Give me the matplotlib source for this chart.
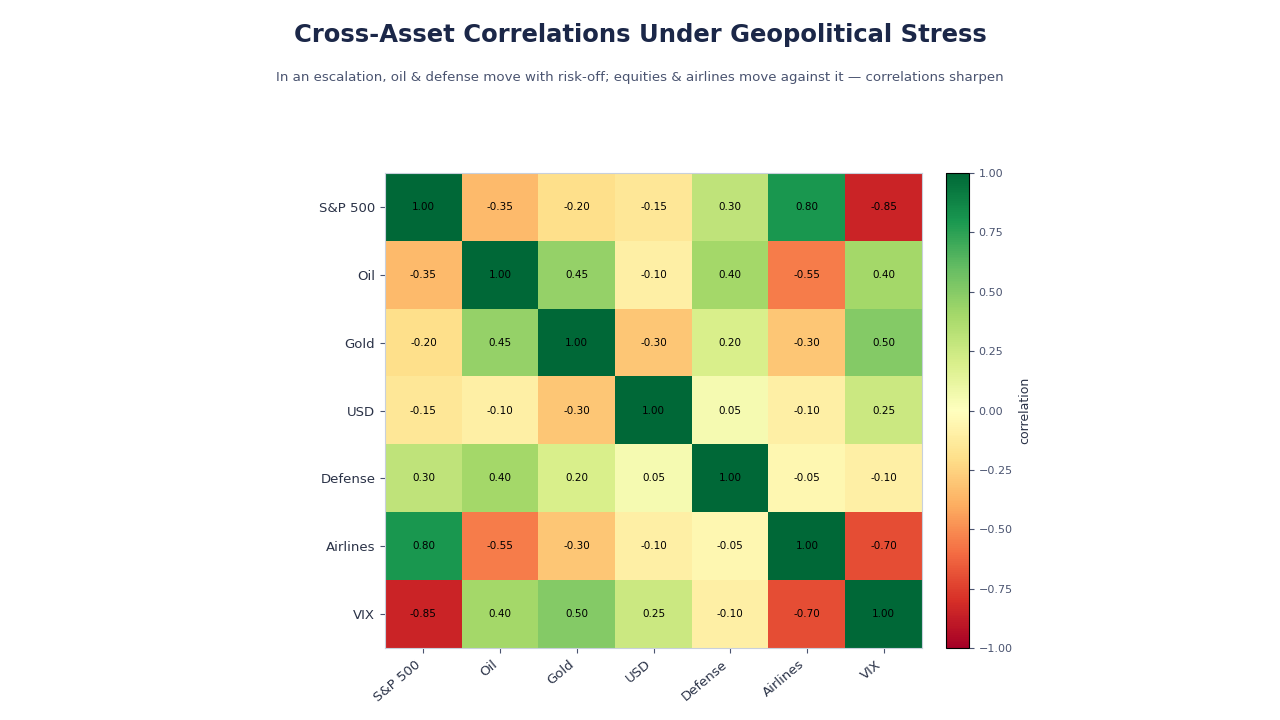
import numpy as np
import matplotlib.pyplot as plt

assets = ["S&P 500", "Oil", "Gold", "USD", "Defense", "Airlines", "VIX"]
corr = np.array([
    [1.00, -0.35, -0.20, -0.15, 0.30, 0.80, -0.85],
    [-0.35, 1.00, 0.45, -0.10, 0.40, -0.55, 0.40],
    [-0.20, 0.45, 1.00, -0.30, 0.20, -0.30, 0.50],
    [-0.15, -0.10, -0.30, 1.00, 0.05, -0.10, 0.25],
    [0.30, 0.40, 0.20, 0.05, 1.00, -0.05, -0.10],
    [0.80, -0.55, -0.30, -0.10, -0.05, 1.00, -0.70],
    [-0.85, 0.40, 0.50, 0.25, -0.10, -0.70, 1.00],
])

title_col = "#1b2748"
sub_col = "#4a5470"
tick_col = "#2a3247"

fig = plt.figure(figsize=(12.8, 7.2), dpi=100)
ax = fig.add_axes([0.3008, 0.1, 0.4195, 0.6597])
cax = fig.add_axes([0.739, 0.1, 0.018, 0.6597])

im = ax.imshow(corr, cmap="RdYlGn", vmin=-1, vmax=1, aspect="auto")
n = len(assets)
for i in range(n):
    for j in range(n):
        ax.text(j, i, f"{corr[i, j]:.2f}", ha="center", va="center",
                fontsize=7.5, color="black")

ax.set_xticks(range(n))
ax.set_yticks(range(n))
ax.set_xticklabels(assets, rotation=40, ha="right", fontsize=9.5)
ax.set_yticklabels(assets, fontsize=9.5)
ax.tick_params(colors=sub_col, length=3.5)
for lab in ax.get_xticklabels() + ax.get_yticklabels():
    lab.set_color(tick_col)
for s in ax.spines.values():
    s.set_color("#c8d0dc")

cb = fig.colorbar(im, cax=cax)
cb.set_ticks([-1, -0.75, -0.5, -0.25, 0, 0.25, 0.5, 0.75, 1])
cb.ax.tick_params(labelsize=8, colors=sub_col, length=3.5)
cb.set_label("correlation", fontsize=9, color=tick_col)
cb.outline.set_color("black")

fig.text(0.5, 0.951, "Cross-Asset Correlations Under Geopolitical Stress",
         ha="center", va="center", fontsize=17.5, fontweight="bold", color=title_col)
fig.text(0.5, 0.893, "In an escalation, oil & defense move with risk-off; equities & airlines move against it \u2014 correlations sharpen",
         ha="center", va="center", fontsize=9.6, color=sub_col)

fig.savefig("out.png", dpi=100)
